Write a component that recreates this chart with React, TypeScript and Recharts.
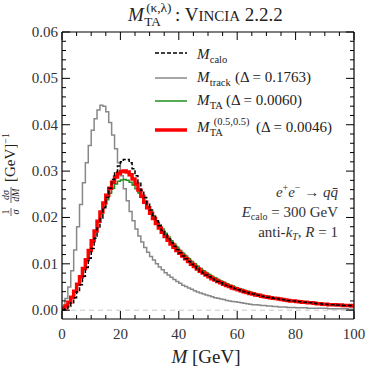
import { LineChart, Line, XAxis, YAxis, ReferenceLine } from "recharts";

// 1 GeV bins, left edges 0..99
const EDGES = Array.from({ length: 100 }, (_, i) => i);

const CALO = [
  0.0001, 0.0003, 0.0008, 0.0016, 0.0027, 0.0040, 0.0055, 0.0073, 0.0092, 0.0112,
  0.0133, 0.0155, 0.0177, 0.0199, 0.0221, 0.0243, 0.0263, 0.0282, 0.0298, 0.0311,
  0.0320, 0.0325, 0.0325, 0.0318, 0.0305, 0.0290, 0.0274, 0.0258, 0.0243, 0.0229,
  0.0216, 0.0204, 0.0193, 0.0182, 0.0172, 0.0163, 0.0154, 0.0146, 0.0138, 0.0131,
  0.0124, 0.0117, 0.0111, 0.0105, 0.0099, 0.0094, 0.0089, 0.0084, 0.0080, 0.0076,
  0.0072, 0.0068, 0.0065, 0.0062, 0.0059, 0.0056, 0.0053, 0.0051, 0.0048, 0.0046,
  0.0044, 0.0042, 0.0040, 0.0038, 0.0036, 0.0035, 0.0033, 0.0032, 0.0030, 0.0029,
  0.0028, 0.0027, 0.0026, 0.0025, 0.0024, 0.0023, 0.0022, 0.0021, 0.0020, 0.0020,
  0.0019, 0.0018, 0.0017, 0.0017, 0.0016, 0.0016, 0.0015, 0.0014, 0.0014, 0.0013,
  0.0013, 0.0012, 0.0012, 0.0012, 0.0011, 0.0011, 0.0010, 0.0010, 0.0010, 0.0009,
];

const TRACK = [
  0.0008, 0.0025, 0.0050, 0.0085, 0.0130, 0.0180, 0.0228, 0.0275, 0.0318, 0.0355,
  0.0388, 0.0413, 0.0432, 0.0442, 0.0440, 0.0428, 0.0405, 0.0378, 0.0348, 0.0318,
  0.0290, 0.0262, 0.0236, 0.0213, 0.0193, 0.0175, 0.0160, 0.0147, 0.0135, 0.0125,
  0.0116, 0.0108, 0.0100, 0.0093, 0.0087, 0.0081, 0.0076, 0.0071, 0.0066, 0.0062,
  0.0058, 0.0054, 0.0051, 0.0048, 0.0045, 0.0042, 0.0039, 0.0037, 0.0035, 0.0033,
  0.0031, 0.0029, 0.0027, 0.0026, 0.0024, 0.0023, 0.0021, 0.0020, 0.0019, 0.0018,
  0.0017, 0.0016, 0.0015, 0.0014, 0.0013, 0.0012, 0.0012, 0.0011, 0.0010, 0.0010,
  0.0009, 0.0009, 0.0008, 0.0008, 0.0007, 0.0007, 0.0007, 0.0006, 0.0006, 0.0006,
  0.0005, 0.0005, 0.0005, 0.0005, 0.0004, 0.0004, 0.0004, 0.0004, 0.0004, 0.0004,
  0.0004, 0.0003, 0.0003, 0.0003, 0.0003, 0.0003, 0.0003, 0.0003, 0.0002, 0.0002,
];

const TA = [
  0.0003, 0.0009, 0.0017, 0.0028, 0.0041, 0.0056, 0.0072, 0.0090, 0.0109, 0.0129,
  0.0149, 0.0169, 0.0189, 0.0207, 0.0224, 0.0238, 0.0252, 0.0263, 0.0272, 0.0278,
  0.0281, 0.0282, 0.0280, 0.0276, 0.0270, 0.0262, 0.0253, 0.0243, 0.0233, 0.0223,
  0.0213, 0.0203, 0.0193, 0.0184, 0.0175, 0.0166, 0.0158, 0.0150, 0.0143, 0.0136,
  0.0129, 0.0123, 0.0117, 0.0111, 0.0105, 0.0100, 0.0095, 0.0090, 0.0085, 0.0081,
  0.0077, 0.0073, 0.0070, 0.0066, 0.0063, 0.0060, 0.0057, 0.0054, 0.0052, 0.0049,
  0.0047, 0.0045, 0.0043, 0.0041, 0.0039, 0.0037, 0.0035, 0.0034, 0.0032, 0.0031,
  0.0030, 0.0028, 0.0027, 0.0026, 0.0025, 0.0024, 0.0023, 0.0022, 0.0021, 0.0021,
  0.0020, 0.0019, 0.0018, 0.0018, 0.0017, 0.0016, 0.0016, 0.0015, 0.0015, 0.0014,
  0.0014, 0.0013, 0.0013, 0.0012, 0.0012, 0.0011, 0.0011, 0.0011, 0.0010, 0.0010,
];

const TA_KL = [
  0.0003, 0.0009, 0.0017, 0.0028, 0.0041, 0.0056, 0.0072, 0.0090, 0.0109, 0.0129,
  0.0150, 0.0171, 0.0192, 0.0212, 0.0231, 0.0248, 0.0263, 0.0276, 0.0287, 0.0295,
  0.0299, 0.0300, 0.0298, 0.0292, 0.0283, 0.0272, 0.0259, 0.0246, 0.0233, 0.0221,
  0.0209, 0.0198, 0.0187, 0.0177, 0.0168, 0.0159, 0.0151, 0.0143, 0.0136, 0.0129,
  0.0123, 0.0117, 0.0111, 0.0105, 0.0099, 0.0094, 0.0089, 0.0084, 0.0080, 0.0076,
  0.0072, 0.0068, 0.0065, 0.0062, 0.0059, 0.0056, 0.0053, 0.0051, 0.0048, 0.0046,
  0.0044, 0.0042, 0.0040, 0.0038, 0.0036, 0.0035, 0.0033, 0.0032, 0.0030, 0.0029,
  0.0028, 0.0027, 0.0026, 0.0025, 0.0024, 0.0023, 0.0022, 0.0021, 0.0020, 0.0020,
  0.0019, 0.0018, 0.0017, 0.0017, 0.0016, 0.0016, 0.0015, 0.0014, 0.0014, 0.0013,
  0.0013, 0.0012, 0.0012, 0.0012, 0.0011, 0.0011, 0.0010, 0.0010, 0.0010, 0.0009,
];

const X_TICKS = [0, 5, 10, 15, 20, 25, 30, 35, 40, 45, 50, 55, 60, 65, 70, 75, 80, 85, 90, 95, 100];
const X_MAJOR = [0, 20, 40, 60, 80, 100];
const Y_TICKS = Array.from({ length: 31 }, (_, i) => +(i * 0.002).toFixed(3));

// step histogram rows, the closing edge repeats the final bin
const data = [...EDGES, 100].map((m, i) => {
  const j = Math.min(i, EDGES.length - 1);
  return { m, calo: CALO[j], track: TRACK[j], ta: TA[j], takl: TA_KL[j] };
});

const FONT = "'Liberation Serif', 'DejaVu Serif', serif";
const W = 374;
const H = 374;

const isMajorY = (v: number) => Math.abs(v * 100 - Math.round(v * 100)) < 1e-6;

function BottomTick({ x, y, payload }: any) {
  const major = X_MAJOR.includes(payload.value);
  return (
    <g>
      <line x1={x} x2={x} y1={y} y2={y - (major ? 8 : 4)} stroke="#000" strokeWidth={1} />
      {major && (
        <text x={x} y={y + 20} textAnchor="middle" fontSize={15} fontFamily={FONT} fill="#333">
          {payload.value}
        </text>
      )}
    </g>
  );
}

function TopTick({ x, y, payload }: any) {
  const major = X_MAJOR.includes(payload.value);
  return <line x1={x} x2={x} y1={y} y2={y + (major ? 8 : 4)} stroke="#000" strokeWidth={1} />;
}

function LeftTick({ x, y, payload }: any) {
  const major = isMajorY(payload.value);
  return (
    <g>
      <line x1={x} x2={x + (major ? 8 : 4)} y1={y} y2={y} stroke="#000" strokeWidth={1} />
      {major && (
        <text x={x - 4} y={y + 5} textAnchor="end" fontSize={15} fontFamily={FONT} fill="#333">
          {payload.value.toFixed(2)}
        </text>
      )}
    </g>
  );
}

function RightTick({ x, y, payload }: any) {
  const major = isMajorY(payload.value);
  return <line x1={x} x2={x - (major ? 8 : 4)} y1={y} y2={y} stroke="#000" strokeWidth={1} />;
}

function Sub({ base, sub, sup, x, y, size, supShift = 0 }: { base: string; sub: string; sup?: string; x: number; y: number; size: number; supShift?: number }) {
  const small = size * 0.7;
  const bw = size * 0.85;
  return (
    <>
      <tspan x={x} y={y} fontStyle="italic">{base}</tspan>
      <tspan x={x + bw} y={y + size * 0.28} fontSize={small}>{sub}</tspan>
      {sup && <tspan x={x + bw + supShift} y={y - size * 0.48} fontSize={small}>{sup}</tspan>}
    </>
  );
}

function Overlay() {
  const legendRows = [
    { y: 53, color: "#000", width: 1.5, dash: "4 2" },
    { y: 78, color: "#888", width: 1.5 },
    { y: 101, color: "#1f8f1f", width: 1.5 },
    { y: 130, color: "#ff0000", width: 3.5 },
  ];
  return (
    <svg width={W} height={H} style={{ position: "absolute", left: 0, top: 0, pointerEvents: "none" }}>
      {/* title */}
      <text fontSize={19} fontFamily={FONT} fill="#222">
        <Sub base="M" sub="TA" sup="(κ,λ)" x={128} y={21} size={19} supShift={2} />
        <tspan x={175} y={21}>: V</tspan>
        <tspan fontSize={15}>INCIA</tspan>
        <tspan> 2.2.2</tspan>
      </text>

      {/* legend */}
      {legendRows.map((r, i) => (
        <line key={i} x1={155} x2={187} y1={r.y} y2={r.y} stroke={r.color} strokeWidth={r.width} strokeDasharray={r.dash} />
      ))}
      <g fontSize={15} fontFamily={FONT} fill="#222">
        <text>
          <Sub base="M" sub="calo" x={197} y={59} size={15} />
        </text>
        <text>
          <Sub base="M" sub="track" x={197} y={82} size={15} />
          <tspan x={235} y={82}>(Δ = 0.1763)</tspan>
        </text>
        <text>
          <Sub base="M" sub="TA" x={197} y={105} size={15} />
          <tspan x={226} y={105}>(Δ = 0.0060)</tspan>
        </text>
        <text>
          <Sub base="M" sub="TA" sup="(0.5,0.5)" x={197} y={132} size={15} supShift={4} />
          <tspan x={256} y={132}>(Δ = 0.0046)</tspan>
        </text>
      </g>

      {/* process annotation */}
      <g fontSize={15} fontFamily={FONT} fill="#333" textAnchor="end">
        <text x={338} y={197}>
          <tspan fontStyle="italic">e</tspan>
          <tspan fontSize={10} dy={-6}>+</tspan>
          <tspan fontStyle="italic" dy={6}>e</tspan>
          <tspan fontSize={10} dy={-6}>−</tspan>
          <tspan dy={6}> → </tspan>
          <tspan fontStyle="italic">qq̄</tspan>
        </text>
        <text x={338} y={217}>
          <tspan fontStyle="italic">E</tspan>
          <tspan fontSize={10} dy={3}>calo</tspan>
          <tspan dy={-3}> = 300 GeV</tspan>
        </text>
        <text x={338} y={237}>
          <tspan>anti-</tspan>
          <tspan fontStyle="italic">k</tspan>
          <tspan fontSize={10} fontStyle="italic" dy={3}>T</tspan>
          <tspan dy={-3}>, </tspan>
          <tspan fontStyle="italic">R</tspan>
          <tspan> = 1</tspan>
        </text>
      </g>

      {/* x label */}
      <text x={206} y={363} textAnchor="middle" fontSize={19} fontFamily={FONT} fill="#222">
        <tspan fontStyle="italic">M</tspan>
        <tspan>  [GeV]</tspan>
      </text>

      {/* y label */}
      <g transform="translate(15,174) rotate(-90)" fontFamily={FONT} fill="#222">
        <text x={-38} y={-6} fontSize={10} textAnchor="middle">1</text>
        <line x1={-42} x2={-34} y1={-4} y2={-4} stroke="#222" strokeWidth={0.7} />
        <text x={-38} y={4} fontSize={10} textAnchor="middle" fontStyle="italic">σ</text>
        <text x={-21} y={-6} fontSize={10} textAnchor="middle" fontStyle="italic">dσ</text>
        <line x1={-29} x2={-13} y1={-4} y2={-4} stroke="#222" strokeWidth={0.7} />
        <text x={-21} y={4} fontSize={10} textAnchor="middle" fontStyle="italic">dM</text>
        <text x={-8} y={0} fontSize={15}>
          [GeV]<tspan fontSize={10} dy={-6}>−1</tspan>
        </text>
      </g>
    </svg>
  );
}

export default function App() {
  return (
    <div style={{ position: "absolute", left: 0, top: 0, width: W, height: H, background: "#fff" }}>
      <LineChart width={W} height={H} data={data} margin={{ top: 31, right: 19, bottom: 0, left: 0 }}>
        <XAxis
          dataKey="m"
          type="number"
          domain={[0, 100]}
          ticks={X_TICKS}
          interval={0}
          height={55}
          tickSize={0}
          tickMargin={0}
          tickLine={false}
          axisLine={{ stroke: "#000", strokeWidth: 1.2 }}
          tick={<BottomTick />}
          allowDataOverflow
        />
        <XAxis
          xAxisId="top"
          orientation="top"
          type="number"
          domain={[0, 100]}
          ticks={X_TICKS}
          interval={0}
          height={1}
          tickSize={0}
          tickMargin={0}
          tickLine={false}
          axisLine={{ stroke: "#000", strokeWidth: 1.2 }}
          tick={<TopTick />}
          allowDataOverflow
        />
        <YAxis
          type="number"
          domain={[-0.0019, 0.06]}
          ticks={Y_TICKS}
          interval={0}
          width={62}
          tickSize={0}
          tickMargin={0}
          tickLine={false}
          axisLine={{ stroke: "#000", strokeWidth: 1.2 }}
          tick={<LeftTick />}
          allowDataOverflow
        />
        <YAxis
          yAxisId="right"
          orientation="right"
          type="number"
          domain={[-0.0019, 0.06]}
          ticks={Y_TICKS}
          interval={0}
          width={1}
          tickSize={0}
          tickMargin={0}
          tickLine={false}
          axisLine={{ stroke: "#000", strokeWidth: 1.2 }}
          tick={<RightTick />}
          allowDataOverflow
        />
        <ReferenceLine y={0} stroke="#c8c8c8" strokeDasharray="5 4" strokeWidth={1} />
        <Line dataKey="track" type="stepAfter" stroke="#888" strokeWidth={1.5} dot={false} isAnimationActive={false} />
        <Line dataKey="ta" type="stepAfter" stroke="#1f8f1f" strokeWidth={1.5} dot={false} isAnimationActive={false} />
        <Line dataKey="takl" type="stepAfter" stroke="#ff0000" strokeWidth={3.5} dot={false} isAnimationActive={false} />
        <Line dataKey="calo" type="stepAfter" stroke="#000" strokeWidth={1.5} strokeDasharray="4 2" dot={false} isAnimationActive={false} />
      </LineChart>
      <Overlay />
    </div>
  );
}
